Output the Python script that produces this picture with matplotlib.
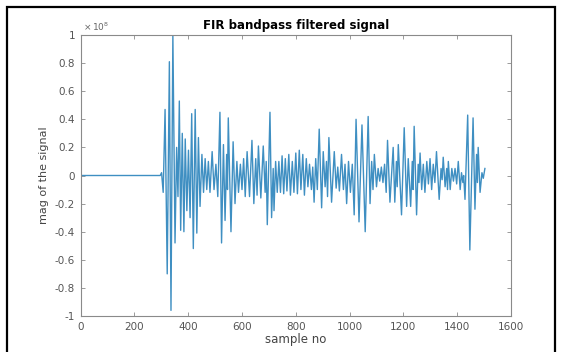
import matplotlib
matplotlib.use("Agg")
import matplotlib.pyplot as plt
from matplotlib.patches import Rectangle
from matplotlib.ticker import FuncFormatter

plt.rcParams['font.family'] = ['DejaVu Sans']
plt.rcParams['axes.unicode_minus'] = False

# signal extrema (sample number, magnitude in units of 1e8)
sample_no = [1, 296, 301, 307, 314, 322, 330, 336, 343, 351, 357, 362, 367, 372, 378, 384,
             389, 395, 401, 407, 413, 419, 426, 432, 438, 444, 451, 457, 463, 469, 475, 481,
             489, 496, 503, 510, 518, 524, 531, 537, 543, 546, 549, 559, 567, 574, 581, 587,
             594, 600, 606, 612, 619, 628, 637, 644, 651, 656, 661, 670, 679, 686, 690, 694,
             704, 710, 716, 719, 725, 731, 737, 743, 749, 755, 761, 767, 774, 780, 787, 793,
             800, 806, 813, 819, 826, 832, 839, 845, 851, 858, 863, 868, 874, 880, 887, 896,
             902, 909, 914, 918, 923, 933, 943, 950, 956, 962, 970, 977, 983, 989, 996, 1003,
             1010, 1017, 1024, 1035, 1046, 1058, 1069, 1076, 1082, 1087, 1092, 1100, 1106, 1112,
             1118, 1124, 1130, 1136, 1141, 1150, 1162, 1168, 1174, 1177, 1181, 1193, 1203, 1212,
             1218, 1227, 1233, 1236, 1240, 1249, 1255, 1258, 1262, 1268, 1274, 1280, 1287, 1293,
             1299, 1305, 1311, 1317, 1323, 1333, 1340, 1344, 1348, 1355, 1361, 1364, 1367, 1374,
             1380, 1386, 1392, 1398, 1404, 1411, 1416, 1421, 1424, 1429, 1439, 1447, 1459, 1466,
             1472, 1475, 1478, 1485, 1492, 1497, 1503]
mag = [0.0, 0.0, 0.02, -0.12, 0.47, -0.70, 0.81, -0.96, 1.00, -0.48, 0.20, -0.15, 0.53, -0.39, 0.30, -0.40,
       0.26, -0.25, 0.18, -0.30, 0.44, -0.52, 0.47, -0.41, 0.27, -0.22, 0.15, -0.12, 0.12, -0.10, 0.10, -0.12,
       0.17, -0.10, 0.08, -0.15, 0.45, -0.48, 0.22, -0.32, 0.15, -0.10, 0.41, -0.40, 0.24, -0.20, 0.10, -0.12,
       0.08, -0.10, 0.12, -0.15, 0.17, -0.15, 0.25, -0.20, 0.12, -0.14, 0.21, -0.16, 0.21, -0.12, 0.10, -0.35,
       0.45, -0.30, 0.05, -0.25, 0.10, -0.12, 0.10, -0.12, 0.14, -0.13, 0.12, -0.11, 0.15, -0.14, 0.10, -0.12,
       0.16, -0.13, 0.18, -0.10, 0.15, -0.14, 0.12, -0.08, 0.08, -0.10, 0.06, -0.19, 0.12, -0.10, 0.33, -0.23,
       0.17, -0.08, 0.10, -0.15, 0.27, -0.19, 0.17, -0.09, 0.06, -0.11, 0.15, -0.10, 0.08, -0.20, 0.10, -0.12,
       0.08, -0.28, 0.40, -0.33, 0.36, -0.40, 0.42, -0.20, 0.10, -0.10, 0.15, -0.08, 0.05, -0.04,
       0.06, -0.05, 0.08, -0.12, 0.25, -0.19, 0.20, -0.19, 0.10, -0.08, 0.22, -0.28, 0.34, -0.22,
       0.12, -0.22, 0.10, -0.10, 0.35, -0.28, 0.08, -0.05, 0.16, -0.10, 0.08, -0.12, 0.10, -0.06,
       0.12, -0.10, 0.08, -0.05, 0.17, -0.17, 0.05, -0.03, 0.13, -0.08, 0.05, -0.10, 0.10, -0.10,
       0.05, -0.04, 0.05, -0.06, 0.10, -0.10, 0.02, -0.05, 0.00, -0.17, 0.43, -0.53, 0.41, -0.24,
       0.15, -0.05, 0.20, -0.12, 0.02, -0.02, 0.05]

x_ticks = [0, 200, 400, 600, 800, 1000, 1200, 1400, 1600]
y_ticks = [-1, -0.8, -0.6, -0.4, -0.2, 0, 0.2, 0.4, 0.6, 0.8, 1]

W, H = 562, 352
fig = plt.figure(figsize=(W / 100, H / 100), dpi=100)
fig.patch.set_facecolor('white')

# outer black frame
fig.patches.append(Rectangle((7 / W, -0.01), (555 - 7) / W, (1 - 7 / H) + 0.01,
                             transform=fig.transFigure, fill=False,
                             edgecolor='black', linewidth=1.6))

ax = fig.add_axes([80.6 / W, 1 - 316 / H, (511 - 80.6) / W, (316 - 35) / H])
ax.plot(sample_no, mag, color='#3f8fc2', linewidth=1.0)

ax.set_xlim(0, 1600)
ax.set_ylim(-1, 1)
ax.set_xticks(x_ticks)
ax.set_yticks(y_ticks)
ax.yaxis.set_major_formatter(FuncFormatter(lambda v, p: '%g' % round(v, 2)))
ax.tick_params(direction='in', length=3, width=0.6, top=True, right=True,
               labelsize=7.5, colors='#8a8a8a', labelcolor='#555555', pad=4)
for s in ax.spines.values():
    s.set_color('#8a8a8a')
    s.set_linewidth(0.8)

ax.set_title('FIR bandpass filtered signal', fontsize=8.5, fontweight='bold', pad=4)
ax.set_xlabel('sample no', fontsize=8.5, color='#444444', labelpad=1)
ax.set_ylabel('mag of the signal', fontsize=8, color='#444444', labelpad=4)
ax.text(0.005, 1.008, r'$\times\,10^{8}$', transform=ax.transAxes, fontsize=6.5,
        color='#666666', ha='left', va='bottom')

fig.savefig('out.png', dpi=100)
